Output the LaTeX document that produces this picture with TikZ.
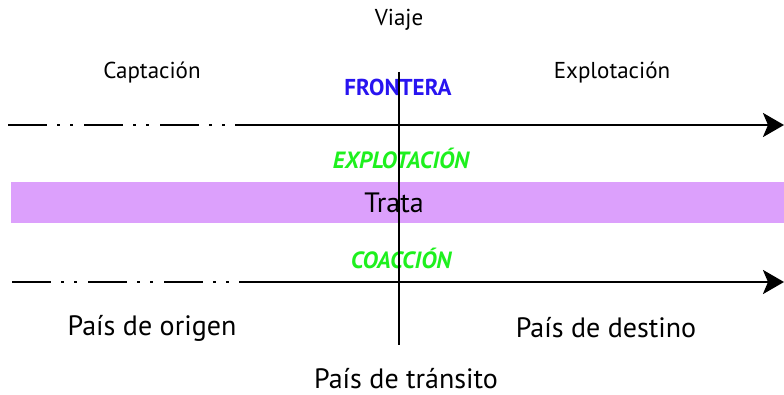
\documentclass[tikz,border=0pt]{standalone}
\usepackage{fontspec}
\setmainfont{PT Sans}
\usetikzlibrary{arrows.meta, positioning}
\definecolor{trata}{RGB}{220,160,252}
\definecolor{verde}{RGB}{30,240,30}
\definecolor{azul}{RGB}{40,20,240}

\begin{document}
\begin{tikzpicture}[x=1pt, y=-1pt,
    etapa/.style={font=\fontsize{23}{25}\selectfont, inner sep=0pt},
    pais/.style={font=\fontsize{28}{30}\selectfont, inner sep=0pt},
    medio/.style={font=\fontsize{23.5}{25}\selectfont\bfseries\itshape,
        text=verde, inner sep=0pt},
    frontera/.style={font=\fontsize{23}{25}\selectfont\bfseries,
        text=azul, inner sep=0pt},
    ruta/.style={line width=2.8pt, dash pattern=on 39pt off 10pt on 3pt off 10pt on 3pt off 11pt},
    flecha/.style={line width=2.8pt, -{Stealth[length=21pt, width=24pt, inset=5pt]}}]

    \useasboundingbox (0,0) rectangle (784,395);

    % banda de la trata
    \fill[trata] (11,182) rectangle (784,223);
    \node[pais] (trata) at (394,203) {Trata};

    % etiquetas de arriba
    \node[etapa] (viaje) at (399,20) {Viaje};
    \node[etapa] (captacion) at (152,73) {Captación};
    \node[etapa] (explotacion) at (612,73) {Explotación};
    \node[frontera] (frontera) at (398,87) {FRONTERA};

    \node[medio] (explot) at (401,158) {EXPLOTACIÓN};
    \node[medio] (coaccion) at (401,258) {COACCIÓN};

    % paises
    \node[pais] (origen) at (152,328) {País de origen};
    \node[pais] (destino) at (606,328) {País de destino};
    \node[pais] (transito) at (406,379) {País de tránsito};

    % ejes
    \coordinate (a1) at (8,125);
    \coordinate (a2) at (235,125);
    \coordinate (a3) at (784,125);
    \coordinate (b1) at (12,282);
    \coordinate (b2) at (239,282);
    \coordinate (b3) at (784,282);
    \coordinate (v1) at (399,72);
    \coordinate (v2) at (399,345);

    \draw[ruta] (a1) -- (a2);
    \draw[flecha] (a2) -- (a3);
    \draw[ruta] (b1) -- (b2);
    \draw[flecha] (b2) -- (b3);
    \draw[line width=2.4pt] (v1) -- (v2);

\end{tikzpicture}
\end{document}
